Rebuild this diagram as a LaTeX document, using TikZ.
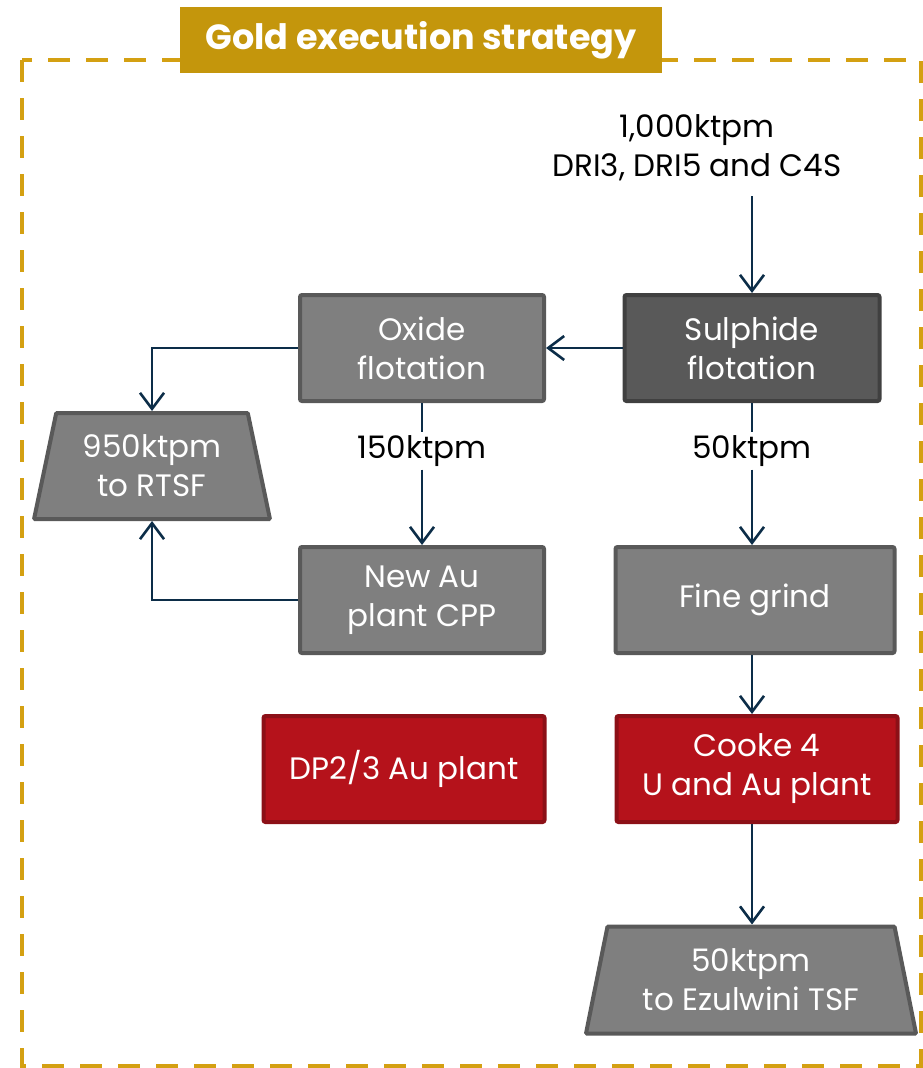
\documentclass[tikz,border=0pt]{standalone}
\usepackage{fontspec}
\setmainfont{Poppins}
\usetikzlibrary{arrows.meta, positioning, shapes.geometric}
\definecolor{gold}{HTML}{C4960C}
\definecolor{goldline}{HTML}{D4A012}
\definecolor{boxgray}{HTML}{7F7F7F}
\definecolor{boxedge}{HTML}{595959}
\definecolor{darkfill}{HTML}{595959}
\definecolor{darkedge}{HTML}{404040}
\definecolor{redfill}{HTML}{B5121B}
\definecolor{rededge}{HTML}{8C1017}
\definecolor{flow}{HTML}{0C2D48}

\begin{document}
\begin{tikzpicture}[x=1pt, y=-1pt,
        box/.style={draw=boxedge, fill=boxgray, line width=4pt, rounded corners=2pt, align=center,
            text=white, font=\fontsize{31}{39}\selectfont, minimum height=106pt, inner sep=2pt},
        darkbox/.style={box, draw=darkedge, fill=darkfill},
        redbox/.style={box, draw=rededge, fill=redfill},
        trap/.style={box, trapezium, trapezium angle=76, trapezium stretches=true, rounded corners=1pt},
        lbl/.style={font=\fontsize{31}{39}\selectfont, align=center, fill=white, inner sep=3pt},
        arr/.style={-{Straight Barb[length=16pt, width=24pt]}, draw=flow, line width=2.6pt}]
        \useasboundingbox (0,0) rectangle (923,1068);
        % frame and heading
        \draw[goldline, line width=4pt, dash pattern=on 22pt off 16pt] (22,60) rectangle (921,1066);
        \node[fill=gold, minimum width=482pt, minimum height=66pt, text=white,
            font=\fontsize{35}{40}\selectfont\bfseries] (title) at (421,40) {Gold execution strategy};
        % process boxes
        \node[lbl] (feed) at (697,148) {1,000ktpm\\DRI3, DRI5 and C4S};
        \node[darkbox, minimum width=255pt] (sulph) at (752,348) {Sulphide\\flotation};
        \node[box, minimum width=244pt] (oxide) at (422,348) {Oxide\\flotation};
        \node[trap, minimum width=236pt] (rtsf) at (152,466) {950ktpm\\to RTSF};
        \node[lbl] (l150) at (422,451) {150ktpm};
        \node[lbl] (l50) at (752,451) {50ktpm};
        \node[box, minimum width=244pt] (newau) at (422,600) {New Au\\plant CPP};
        \node[box, minimum width=279pt] (fine) at (755,600) {Fine grind};
        \node[redbox, minimum width=281pt] (dp) at (404,769) {DP2/3 Au plant};
        \node[redbox, minimum width=281pt] (cooke) at (757,769) {Cooke 4\\U and Au plant};
        \node[trap, minimum width=331pt, minimum height=107pt] (ezul) at (751,980) {50ktpm\\to Ezulwini TSF};
        % flows
        \draw[arr] ([yshift=-12pt]feed.south -| sulph.north) -- (sulph.north);
        \draw[arr] (sulph.west) -- (oxide.east);
        \draw[arr] (oxide.west) -| (rtsf.north);
        \draw[arr] (newau.west) -| (rtsf.south);
        \draw[arr, -] (oxide.south) -- (l150.north);
        \draw[arr] (l150.south) -- (newau.north);
        \draw[arr, -] (sulph.south) -- (l50.north);
        \draw[arr] (l50.south) -- (l50.south |- fine.north);
        \draw[arr] (fine.south -| sulph.south) -- (cooke.north -| sulph.south);
        \draw[arr] (cooke.south -| sulph.south) -- (ezul.north -| sulph.south);
    \end{tikzpicture}
\end{document}
